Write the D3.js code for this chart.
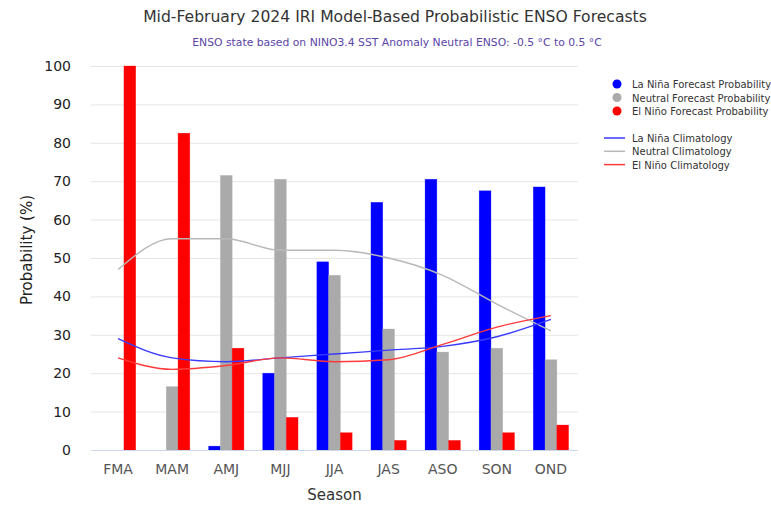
<!DOCTYPE html>
<html lang="en">
<head>
    <meta charset="UTF-8">
    <title>IRI ENSO Forecast</title>
    <script src="https://d3js.org/d3.v7.min.js"></script>
    <style>
        body { margin: 0; background: #fff; }
        svg { display: block; font-family: "DejaVu Sans", sans-serif; }
    </style>
</head>
<body>
<script>
    var seasons = ["FMA", "MAM", "AMJ", "MJJ", "JJA", "JAS", "ASO", "SON", "OND"];

    // forecast probabilities (%)
    var laNina  = [0, 0, 1, 20, 49, 64.5, 70.5, 67.5, 68.5];
    var neutral = [0, 16.5, 71.5, 70.5, 45.5, 31.5, 25.5, 26.5, 23.5];
    var elNino  = [100, 82.5, 26.5, 8.5, 4.5, 2.5, 2.5, 4.5, 6.5];

    // climatology (%)
    var laNinaClim  = [29, 24, 23, 24, 25, 26, 27, 29.5, 34];
    var neutralClim = [47, 55, 55, 52, 52, 50, 45.5, 38, 31];
    var elNinoClim  = [24, 21, 22, 24, 23, 23.5, 27.5, 32, 35];

    var yTicks = [0, 10, 20, 30, 40, 50, 60, 70, 80, 90, 100];

    var w = 771;
    var h = 505;
    var plotLeft = 91, plotRight = 578, plotTop = 66, plotBottom = 450;

    var svg = d3.select("body")
        .append("svg")
        .attr("width", w)
        .attr("height", h);

    var x = d3.scaleBand()
        .domain(seasons)
        .range([plotLeft, plotRight]);

    var xSub = d3.scaleBand()
        .domain(["nina", "neutral", "nino"])
        .range([0, x.bandwidth()])
        .paddingOuter(0.8);

    var y = d3.scaleLinear()
        .domain([0, 100])
        .range([plotBottom, plotTop]);

    // grid
    svg.append("g")
        .selectAll("line")
        .data(yTicks)
        .enter()
        .append("line")
        .attr("x1", plotLeft)
        .attr("x2", plotRight)
        .attr("y1", function(d){ return y(d) + 0.5; })
        .attr("y2", function(d){ return y(d) + 0.5; })
        .attr("stroke", "#e6e6e6")
        .attr("stroke-width", 1);

    // y axis labels
    var yAxis = svg.append("g")
        .attr("transform", "translate(" + (plotLeft - 20) + ",0)")
        .call(d3.axisLeft(y).tickValues(yTicks).tickSize(0).tickPadding(0));
    yAxis.select(".domain").remove();
    yAxis.selectAll("text")
        .style("font-size", "14px")
        .style("fill", "#222")
        .style("font-family", "DejaVu Sans, sans-serif");

    // bars
    var series = [
        { key: "nina", values: laNina, color: "#0000ff" },
        { key: "neutral", values: neutral, color: "#aaaaaa" },
        { key: "nino", values: elNino, color: "#ff0000" }
    ];

    series.forEach(function(s){
        var pts = s.values
            .map(function(v, i){ return { season: seasons[i], value: v }; })
            .filter(function(d){ return d.value > 0; });

        svg.append("g")
            .selectAll("rect")
            .data(pts)
            .enter()
            .append("rect")
            .attr("x", function(d){ return x(d.season) + xSub(s.key); })
            .attr("width", xSub.bandwidth())
            .attr("y", function(d){ return y(d.value); })
            .attr("height", function(d){ return plotBottom - y(d.value); })
            .attr("fill", s.color)
            .attr("stroke", s.color)
            .attr("stroke-opacity", 0.5)
            .attr("stroke-width", 0.6);
    });

    // climatology lines
    var clim = [
        { values: neutralClim, color: "#b8b8b8" },
        { values: laNinaClim, color: "#3a3aff" },
        { values: elNinoClim, color: "#ff3a3a" }
    ];

    var line = d3.line()
        .x(function(d, i){ return x(seasons[i]) + x.bandwidth() / 2; })
        .y(function(d){ return y(d); })
        .curve(d3.curveMonotoneX);

    clim.forEach(function(c){
        svg.append("path")
            .datum(c.values)
            .attr("d", line)
            .attr("fill", "none")
            .attr("stroke", c.color)
            .attr("stroke-width", 1.4);
    });

    // x axis
    svg.append("line")
        .attr("x1", plotLeft)
        .attr("x2", plotRight)
        .attr("y1", plotBottom + 0.5)
        .attr("y2", plotBottom + 0.5)
        .attr("stroke", "#ccd6eb");

    var xAxis = svg.append("g")
        .attr("transform", "translate(0," + (plotBottom + 14) + ")")
        .call(d3.axisBottom(x).tickSize(0).tickPadding(0));
    xAxis.select(".domain").remove();
    xAxis.selectAll("text")
        .attr("dy", "0.71em")
        .style("font-size", "14px")
        .style("fill", "#555")
        .style("font-family", "DejaVu Sans, sans-serif");

    // titles
    svg.append("text")
        .attr("x", 395)
        .attr("y", 22)
        .attr("text-anchor", "middle")
        .style("font-size", "15.6px")
        .style("fill", "#333")
        .text("Mid-February 2024 IRI Model-Based Probabilistic ENSO Forecasts");

    svg.append("text")
        .attr("x", 397)
        .attr("y", 46)
        .attr("text-anchor", "middle")
        .style("font-size", "10.8px")
        .style("fill", "#5a45a8")
        .text("ENSO state based on NINO3.4 SST Anomaly Neutral ENSO: -0.5 °C to 0.5 °C");

    svg.append("text")
        .attr("x", (plotLeft + plotRight) / 2)
        .attr("y", 500)
        .attr("text-anchor", "middle")
        .style("font-size", "15px")
        .style("fill", "#333")
        .text("Season");

    svg.append("text")
        .attr("transform", "translate(32,250) rotate(-90)")
        .attr("text-anchor", "middle")
        .style("font-size", "15px")
        .style("fill", "#222")
        .text("Probability (%)");

    // legend
    var legendDots = [
        { label: "La Niña Forecast Probability", color: "#0000ff" },
        { label: "Neutral Forecast Probability", color: "#aaaaaa" },
        { label: "El Niño Forecast Probability", color: "#ff0000" }
    ];
    var legendLines = [
        { label: "La Niña Climatology", color: "#3a3aff" },
        { label: "Neutral Climatology", color: "#b8b8b8" },
        { label: "El Niño Climatology", color: "#ff3a3a" }
    ];

    legendDots.forEach(function(d, i){
        var ly = 84 + i * 13.5;
        svg.append("circle")
            .attr("cx", 617)
            .attr("cy", ly)
            .attr("r", 4.5)
            .attr("fill", d.color);
        svg.append("text")
            .attr("x", 632)
            .attr("y", ly + 4)
            .style("font-size", "10px")
            .style("fill", "#333")
            .text(d.label);
    });

    legendLines.forEach(function(d, i){
        var ly = 138 + i * 13.3;
        svg.append("line")
            .attr("x1", 604)
            .attr("x2", 625)
            .attr("y1", ly)
            .attr("y2", ly)
            .attr("stroke", d.color)
            .attr("stroke-width", 1.5);
        svg.append("text")
            .attr("x", 632)
            .attr("y", ly + 4)
            .style("font-size", "10px")
            .style("fill", "#333")
            .text(d.label);
    });
</script>
</body>
</html>
